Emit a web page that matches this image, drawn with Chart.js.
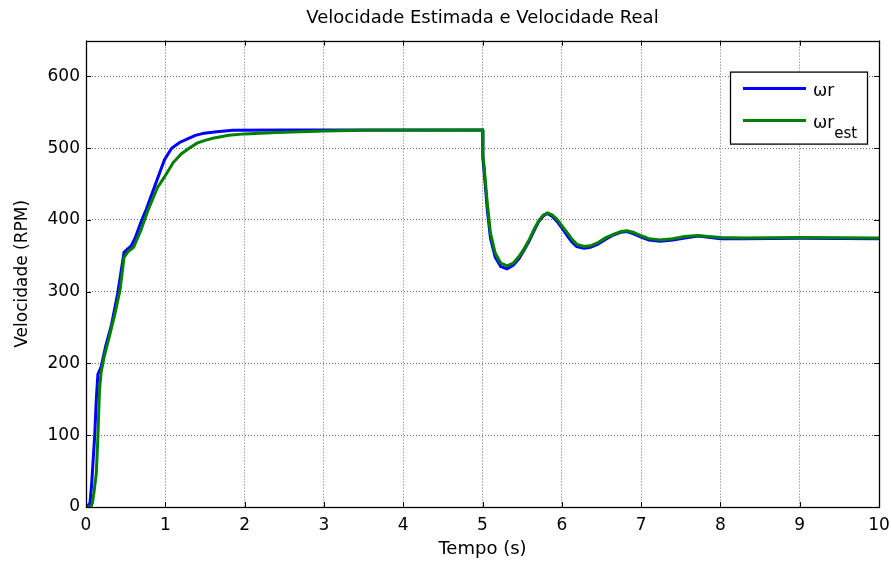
<!DOCTYPE html>
<html>
<head>
<meta charset="utf-8">
<script src="https://cdn.jsdelivr.net/npm/chart.js@4.4.1/dist/chart.umd.min.js"></script>
<style>
  html, body { margin: 0; padding: 0; background: #ffffff; }
  #wrap { width: 891px; height: 563px; }
</style>
</head>
<body>
<div id="wrap"><canvas id="c" width="891" height="563"></canvas></div>
<script>
// Rotor speed (ωr) sample times [s] and values [RPM]
const tempoReal = [0, 0.05, 0.07, 0.09, 0.11, 0.13, 0.15, 0.19, 0.25, 0.32, 0.4, 0.48, 0.52, 0.57, 0.62, 0.69, 0.76, 0.82, 0.9, 0.99, 1.08, 1.18, 1.28, 1.38, 1.49, 1.65, 1.85, 2.5, 3.5, 4.99,
  5.0, 5.005, 5.02, 5.06, 5.1, 5.16, 5.23, 5.31, 5.39, 5.46, 5.52, 5.59, 5.65, 5.71, 5.77, 5.82, 5.88, 5.94, 6.0, 6.07, 6.13, 6.19, 6.28, 6.36, 6.45, 6.55, 6.65, 6.75, 6.82, 6.9, 7.0, 7.1, 7.24, 7.4, 7.55, 7.72, 7.85, 8.0, 8.3, 9.0, 10.0];
const velReal = [0, 5, 30, 65, 100, 150, 185, 195, 225, 253, 298, 355, 359, 364, 375, 396, 415, 433, 457, 484, 500, 508, 513, 518, 521, 523, 525, 525.5, 525.5, 525.5,
  525.5, 485, 468, 415, 375, 348, 335, 332, 337, 346, 357, 371, 385, 398, 406, 409, 405, 398, 389, 378, 369, 363, 360.5, 362, 366, 373, 379, 383, 384, 381, 376, 372, 370.5, 372, 375, 377.5, 376, 374, 374, 374.5, 374];

// Estimated speed (ωr_est) sample times [s] and values [RPM]
const tempoEst = [0, 0.06, 0.08, 0.1, 0.13, 0.15, 0.17, 0.19, 0.23, 0.3, 0.37, 0.43, 0.48, 0.53, 0.6, 0.69, 0.78, 0.9, 0.99, 1.1, 1.2, 1.3, 1.4, 1.5, 1.6, 1.8, 2.0, 2.4, 3.0, 3.5, 4.99,
  5.0, 5.005, 5.02, 5.06, 5.1, 5.16, 5.23, 5.31, 5.39, 5.46, 5.52, 5.59, 5.65, 5.71, 5.77, 5.82, 5.88, 5.94, 6.0, 6.07, 6.13, 6.19, 6.28, 6.36, 6.45, 6.55, 6.65, 6.75, 6.82, 6.9, 7.0, 7.1, 7.24, 7.4, 7.55, 7.72, 7.85, 8.0, 8.3, 9.0, 10.0];
const velEst = [0, 0, 5, 20, 47, 98, 163, 187, 210, 240, 272, 303, 348, 356, 362, 385, 413, 445, 460, 480, 492, 500, 507, 511, 514, 518, 520, 522, 524, 525, 525.5,
  525.5, 490, 475, 424, 382, 354, 340, 336, 340, 349, 359, 373, 387, 399, 407, 410, 407, 401, 392, 382, 373, 366, 363, 364, 368, 375, 380, 384, 385, 383, 378, 374, 372, 374, 377, 378.5, 377, 375.5, 375, 375.5, 375];

// Axis ticks
const xTicks = [0, 1, 2, 3, 4, 5, 6, 7, 8, 9, 10];
const yTicks = [0, 100, 200, 300, 400, 500, 600];

const seriesLabels = ['ωr', 'ωr_est'];
const seriesColors = ['#0000ff', '#008000'];

const toPoints = (ts, vs) => ts.map((t, i) => ({ x: t, y: vs[i] }));

const FONT = '"DejaVu Sans", Arial, Helvetica, sans-serif';

// Box frame with inward ticks on all four sides (MATLAB-style axes)
const boxFrame = {
  id: 'boxFrame',
  afterDraw(chart) {
    const { ctx, chartArea: a, scales } = chart;
    const len = 5;
    ctx.save();
    ctx.strokeStyle = '#000';
    ctx.lineWidth = 1;
    ctx.beginPath();
    xTicks.forEach(v => {
      const px = Math.round(scales.x.getPixelForValue(v)) + 0.5;
      ctx.moveTo(px, a.bottom); ctx.lineTo(px, a.bottom - len);
      ctx.moveTo(px, a.top); ctx.lineTo(px, a.top + len);
    });
    yTicks.forEach(v => {
      const py = Math.round(scales.y.getPixelForValue(v)) + 0.5;
      ctx.moveTo(a.left, py); ctx.lineTo(a.left + len, py);
      ctx.moveTo(a.right, py); ctx.lineTo(a.right - len, py);
    });
    ctx.stroke();
    ctx.lineWidth = 1.3;
    ctx.strokeRect(Math.round(a.left) + 0.5, Math.round(a.top) + 0.5,
                   Math.round(a.right - a.left), Math.round(a.bottom - a.top));
    ctx.restore();
  }
};

// Legend box with subscripted label
const boxLegend = {
  id: 'boxLegend',
  afterDraw(chart) {
    const { ctx, chartArea: a } = chart;
    const bx = a.right - 149, by = a.top + 31, bw = 137, bh = 72;
    ctx.save();
    ctx.fillStyle = '#fff';
    ctx.fillRect(bx, by, bw, bh);
    ctx.strokeStyle = '#000';
    ctx.lineWidth = 1.3;
    ctx.strokeRect(bx + 0.5, by + 0.5, bw, bh);
    const rows = [by + 17, by + 49];
    ctx.lineWidth = 3;
    ctx.textBaseline = 'alphabetic';
    rows.forEach((y, i) => {
      ctx.strokeStyle = seriesColors[i];
      ctx.beginPath();
      ctx.moveTo(bx + 13, y); ctx.lineTo(bx + 76, y);
      ctx.stroke();
      ctx.fillStyle = '#000';
      const parts = seriesLabels[i].split('_');
      ctx.font = '17px ' + FONT;
      ctx.fillText(parts[0], bx + 83, y + 7);
      if (parts[1]) {
        const w = ctx.measureText(parts[0]).width;
        ctx.font = '15px ' + FONT;
        ctx.fillText(parts[1], bx + 83 + w, y + 17);
      }
    });
    ctx.restore();
  }
};

new Chart(document.getElementById('c'), {
  type: 'line',
  data: {
    datasets: [
      {
        label: seriesLabels[0],
        data: toPoints(tempoReal, velReal),
        borderColor: seriesColors[0],
        borderWidth: 3,
        pointRadius: 0,
        tension: 0,
        fill: false,
        order: 1
      },
      {
        label: seriesLabels[1],
        data: toPoints(tempoEst, velEst),
        borderColor: seriesColors[1],
        borderWidth: 3,
        pointRadius: 0,
        tension: 0,
        fill: false,
        order: 0
      }
    ]
  },
  options: {
    responsive: false,
    animation: false,
    devicePixelRatio: 1,
    layout: { padding: { left: 0, right: 12, top: 0, bottom: 0 } },
    plugins: {
      legend: { display: false },
      tooltip: { enabled: false },
      title: {
        display: true,
        fullSize: false,
        text: 'Velocidade Estimada e Velocidade Real',
        color: '#000',
        font: { family: FONT, size: 18, weight: 'normal' },
        padding: { top: 8, bottom: 11 }
      }
    },
    scales: {
      x: {
        type: 'linear',
        min: 0,
        max: 10,
        afterBuildTicks: s => { s.ticks = xTicks.map(v => ({ value: v })); },
        afterFit: s => { s.height = 56; s.paddingLeft = 0; s.paddingRight = 0; },
        grid: { color: '#6e6e6e', lineWidth: 1, drawTicks: false },
        border: { display: false, dash: [1, 2] },
        ticks: {
          color: '#000',
          padding: 8,
          maxRotation: 0,
          font: { family: FONT, size: 17 }
        },
        title: {
          display: true,
          text: 'Tempo (s)',
          color: '#000',
          font: { family: FONT, size: 18 },
          padding: { top: 0, bottom: 3 }
        }
      },
      y: {
        type: 'linear',
        min: 0,
        max: 650,
        afterBuildTicks: s => { s.ticks = yTicks.map(v => ({ value: v })); },
        afterFit: s => { s.width = 86; s.paddingTop = 0; s.paddingBottom = 0; },
        grid: { color: '#6e6e6e', lineWidth: 1, drawTicks: false },
        border: { display: false, dash: [1, 2] },
        ticks: {
          color: '#000',
          padding: 6,
          font: { family: FONT, size: 17 }
        },
        title: {
          display: true,
          text: 'Velocidade (RPM)',
          color: '#000',
          font: { family: FONT, size: 17 },
          padding: { top: 12, bottom: 0 }
        }
      }
    }
  },
  plugins: [boxFrame, boxLegend]
});
</script>
</body>
</html>
